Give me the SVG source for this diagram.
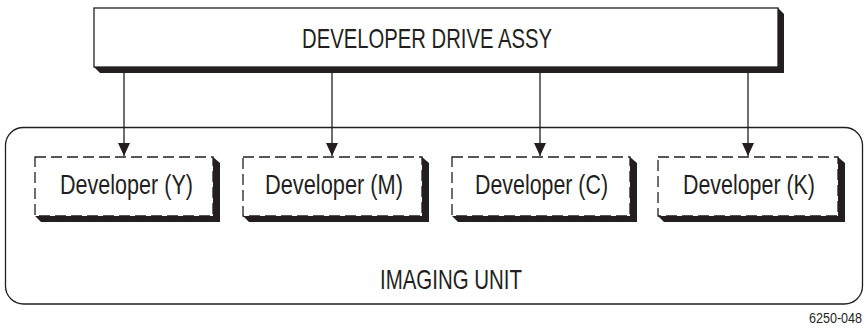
<svg xmlns="http://www.w3.org/2000/svg" width="867" height="329" viewBox="0 0 867 329">
<defs>
<style>
.t{font-family:"Liberation Sans",Arial,sans-serif;fill:#231f20;text-anchor:middle}
.big{font-size:28px}
.box{fill:#fff;stroke:#231f20;stroke-width:1.3}
.dash{fill:#fff;stroke:#231f20;stroke-width:1.3;stroke-dasharray:11 5}
.sh{fill:#231f20}
.ln{stroke:#231f20;stroke-width:1.3;fill:none}
</style>
<marker id="ah" markerWidth="13" markerHeight="12" refX="13" refY="6" orient="auto" markerUnits="userSpaceOnUse" viewBox="0 0 13 12">
<path d="M0,0 L13,6 L0,12 Z" fill="#231f20"/>
</marker>
</defs>
<g id="imaging-unit">
<rect x="5.5" y="127.5" width="857" height="176.5" rx="18" ry="18" class="box"/>
<text class="t big" x="451" y="289" textLength="142" lengthAdjust="spacingAndGlyphs">IMAGING UNIT</text>
</g>
<g id="drive-assy">
<polygon class="sh" points="778,8 784,14 784,73 100,73 94,67"/>
<rect x="94" y="8" width="684" height="59" class="box"/>
<text class="t big" x="427" y="47.5" textLength="250" lengthAdjust="spacingAndGlyphs">DEVELOPER DRIVE ASSY</text>
</g>
<g id="connectors">
<line class="ln" x1="124" y1="73" x2="124" y2="156" marker-end="url(#ah)"/>
<line class="ln" x1="332" y1="73" x2="332" y2="156" marker-end="url(#ah)"/>
<line class="ln" x1="540" y1="73" x2="540" y2="156" marker-end="url(#ah)"/>
<line class="ln" x1="748" y1="73" x2="748" y2="156" marker-end="url(#ah)"/>
</g>
<g id="dev-y">
<polygon class="sh" points="213,157 220,163 220,222 41,222 35,216"/>
<rect x="35" y="157" width="178" height="59" class="dash"/>
<text class="t big" x="126.5" y="194" textLength="133" lengthAdjust="spacingAndGlyphs">Developer (Y)</text>
</g>
<g id="dev-m">
<polygon class="sh" points="422,157 429,163 429,222 249,222 243,216"/>
<rect x="243" y="157" width="179" height="59" class="dash"/>
<text class="t big" x="334" y="194" textLength="138" lengthAdjust="spacingAndGlyphs">Developer (M)</text>
</g>
<g id="dev-c">
<polygon class="sh" points="630,157 637,163 637,222 458,222 452,216"/>
<rect x="452" y="157" width="178" height="59" class="dash"/>
<text class="t big" x="541.5" y="194" textLength="133" lengthAdjust="spacingAndGlyphs">Developer (C)</text>
</g>
<g id="dev-k">
<polygon class="sh" points="838,157 845,163 845,222 664,222 658,216"/>
<rect x="658" y="157" width="180" height="59" class="dash"/>
<text class="t big" x="749" y="194" textLength="132" lengthAdjust="spacingAndGlyphs">Developer (K)</text>
</g>
<text class="t" x="862" y="323" font-size="15" style="text-anchor:end" textLength="53" lengthAdjust="spacingAndGlyphs">6250-048</text>
</svg>
